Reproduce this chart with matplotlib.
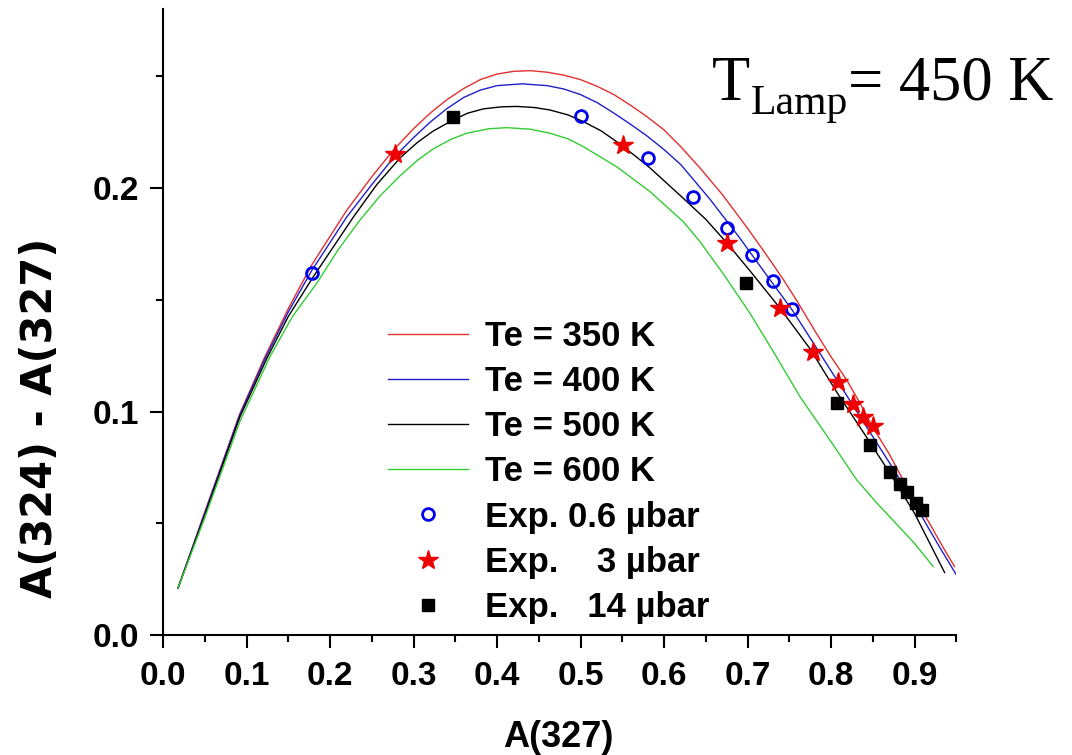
import matplotlib
matplotlib.use("Agg")
import matplotlib.pyplot as plt
from matplotlib.ticker import MultipleLocator, FormatStrFormatter

plt.rcParams['font.family'] = ['Liberation Sans', 'DejaVu Sans']

# ---- model curves ----
red_x = [0.018, 0.05, 0.092, 0.122, 0.15, 0.178, 0.22, 0.25, 0.276, 0.30, 0.32, 0.34, 0.36, 0.38,
         0.40, 0.42, 0.44, 0.46, 0.48, 0.50, 0.52, 0.54, 0.56, 0.58, 0.60, 0.62, 0.643, 0.67,
         0.70, 0.72, 0.743, 0.76, 0.78, 0.80, 0.819, 0.835, 0.85, 0.87, 0.887, 0.90, 0.918,
         0.933, 0.948]
red_y = [0.021, 0.055, 0.099, 0.1245, 0.146, 0.1655, 0.190, 0.205, 0.217, 0.2265, 0.2335, 0.2395,
         0.2445, 0.2485, 0.251, 0.2522, 0.2525, 0.2518, 0.2505, 0.2485, 0.2455, 0.2418, 0.237,
         0.2318, 0.226, 0.2185, 0.209, 0.197, 0.182, 0.1715, 0.159, 0.149, 0.1365, 0.1245,
         0.114, 0.1035, 0.093, 0.0808, 0.069, 0.061, 0.050, 0.040, 0.0306]

blue_x = [0.018, 0.05, 0.092, 0.122, 0.15, 0.178, 0.22, 0.25, 0.276, 0.30, 0.32, 0.34, 0.36, 0.38,
          0.40, 0.43, 0.46, 0.48, 0.50, 0.52, 0.54, 0.56, 0.58, 0.60, 0.62, 0.655, 0.69, 0.72,
          0.753, 0.78, 0.807, 0.825, 0.845, 0.865, 0.883, 0.90, 0.916, 0.933, 0.95]
blue_y = [0.021, 0.0545, 0.0985, 0.1235, 0.1445, 0.163, 0.187, 0.2015, 0.2135, 0.2225, 0.2295,
          0.2355, 0.2405, 0.2438, 0.2458, 0.2466, 0.2458, 0.2443, 0.2418, 0.2382, 0.2335, 0.2285,
          0.2232, 0.2172, 0.2105, 0.195, 0.178, 0.1625, 0.1457, 0.130, 0.1141, 0.1035, 0.0917,
          0.0800, 0.0694, 0.0590, 0.0483, 0.0375, 0.027]

black_x = [0.018, 0.05, 0.092, 0.124, 0.15, 0.18, 0.228, 0.256, 0.284, 0.305, 0.3237, 0.3477,
           0.365, 0.3836, 0.405, 0.4236, 0.445, 0.4635, 0.485, 0.5034, 0.525, 0.5434, 0.565,
           0.5832, 0.6231, 0.65, 0.6758, 0.705, 0.739, 0.775, 0.808, 0.84, 0.8707, 0.90, 0.936]
black_y = [0.021, 0.0535, 0.0975, 0.1235, 0.1425, 0.1603, 0.187, 0.2015, 0.2135, 0.2205, 0.2255,
           0.2305, 0.2335, 0.2354, 0.2363, 0.2365, 0.2360, 0.2349, 0.2327, 0.2297, 0.2255, 0.2207,
           0.2145, 0.2090, 0.1954, 0.1860, 0.1752, 0.1620, 0.1462, 0.128, 0.108, 0.0900, 0.0723,
           0.0545, 0.028]

green_x = [0.018, 0.05, 0.092, 0.128, 0.155, 0.184, 0.21, 0.236, 0.26, 0.284, 0.305, 0.3237,
           0.345, 0.3637, 0.39, 0.4116, 0.44, 0.4635, 0.485, 0.5034, 0.5434, 0.5832, 0.6231,
           0.6431, 0.673, 0.703, 0.733, 0.7629, 0.80, 0.8308, 0.855, 0.88, 0.90, 0.9225]
green_y = [0.021, 0.0525, 0.0955, 0.1245, 0.1425, 0.1573, 0.1725, 0.1857, 0.1965, 0.2055, 0.2125,
           0.2175, 0.2218, 0.2245, 0.2265, 0.2270, 0.2263, 0.2245, 0.2220, 0.2185, 0.2095, 0.1984,
           0.1849, 0.1760, 0.1605, 0.1439, 0.1255, 0.1066, 0.0865, 0.0694, 0.0590, 0.049, 0.041,
           0.0306]

# ---- experimental points ----
exp06_x = [0.178, 0.501, 0.581, 0.635, 0.675, 0.705, 0.731, 0.753]
exp06_y = [0.162, 0.232, 0.2134, 0.1961, 0.182, 0.170, 0.1585, 0.1457]

exp3_x = [0.278, 0.5513, 0.6758, 0.739, 0.7788, 0.8088, 0.8268, 0.8387, 0.8507]
exp3_y = [0.215, 0.2192, 0.1752, 0.1462, 0.1268, 0.1134, 0.1034, 0.0977, 0.0935]

exp14_x = [0.3477, 0.6982, 0.8068, 0.8467, 0.8707, 0.8826, 0.8906, 0.9018, 0.9086]
exp14_y = [0.2319, 0.1577, 0.1039, 0.085, 0.0731, 0.0676, 0.0641, 0.0589, 0.0559]

curve_labels = ['Te = 350 K', 'Te = 400 K', 'Te = 500 K', 'Te = 600 K']
exp_labels = ['Exp. 0.6 \u00b5bar', 'Exp.    3 \u00b5bar', 'Exp.   14 \u00b5bar']

W, H = 1072, 755
fig = plt.figure(figsize=(W / 100, H / 100), dpi=100)
x0, x1 = 163, 956.25
y0, y1 = 635, 9.2
ax = fig.add_axes([x0 / W, 1 - y0 / H, (x1 - x0) / W, (y0 - y1) / H])

lw = 1.0
ax.plot(red_x, red_y, color='#e03030', lw=lw, label=curve_labels[0])
ax.plot(blue_x, blue_y, color='#2020c8', lw=lw, label=curve_labels[1])
ax.plot(black_x, black_y, color='black', lw=lw, label=curve_labels[2])
ax.plot(green_x, green_y, color='#33cc33', lw=lw, label=curve_labels[3])

ax.plot(exp06_x, exp06_y, ls='none', marker='o', ms=8.5, mfc='none', mec='#0000ee', mew=2.0,
        label=exp_labels[0])
ax.plot(exp3_x, exp3_y, ls='none', marker='*', ms=15, color='#ee0000', mec='#ee0000',
        label=exp_labels[1])
ax.plot(exp14_x, exp14_y, ls='none', marker='s', ms=8, color='black', label=exp_labels[2])

ax.set_xlim(0, 0.95)
ax.set_ylim(0, 0.28)
ax.xaxis.set_major_locator(MultipleLocator(0.1))
ax.xaxis.set_minor_locator(MultipleLocator(0.05))
ax.yaxis.set_major_locator(MultipleLocator(0.1))
ax.yaxis.set_minor_locator(MultipleLocator(0.05))
ax.xaxis.set_major_formatter(FormatStrFormatter('%.1f'))
ax.yaxis.set_major_formatter(FormatStrFormatter('%.1f'))

for s in ['top', 'right']:
    ax.spines[s].set_visible(False)
for s in ['left', 'bottom']:
    ax.spines[s].set_linewidth(1.5)

ax.tick_params(which='major', direction='out', length=9.4, width=1.5, labelsize=24)
ax.tick_params(axis='x', which='major', pad=9.5)
ax.tick_params(axis='y', which='major', pad=8)
ax.tick_params(which='minor', direction='out', length=5, width=1.5)
for lab in ax.get_xticklabels() + ax.get_yticklabels():
    lab.set_fontweight('bold')

fig.text(558 / W, 1 - 747 / H, 'A(327)', ha='center', va='baseline', fontsize=26,
         fontweight='bold')
fig.text(40 / W, 1 - 418 / H, 'A(324) - A(327)', ha='center', va='center', rotation=90,
         fontsize=30, fontweight='bold', family=['DejaVu Sans'])

# T_Lamp = 450 K, built from three serif texts
serif = 'Liberation Serif'
t1 = fig.text(712 / W, 1 - 100 / H, 'T', ha='left', va='baseline', fontsize=45, family=serif)
fig.canvas.draw()
r = fig.canvas.get_renderer()
bb1 = t1.get_window_extent(r)
t2 = fig.text((bb1.x1 + 1) / W, 1 - 114 / H, 'Lamp', ha='left', va='baseline', fontsize=30,
              family=serif)
bb2 = t2.get_window_extent(r)
fig.text(bb2.x1 / W, 1 - 100 / H, '= 450 K', ha='left', va='baseline', fontsize=45,
         family=serif)

leg = ax.legend(loc='upper left', bbox_to_anchor=(388 / W, 1 - 320 / H),
                bbox_transform=fig.transFigure, frameon=False,
                prop={'family': 'Liberation Sans', 'weight': 'bold', 'size': 25},
                handlelength=2.3, handletextpad=0.5, labelspacing=0.35, borderpad=0,
                borderaxespad=0, numpoints=1)

fig.savefig('out.png', dpi=100)
